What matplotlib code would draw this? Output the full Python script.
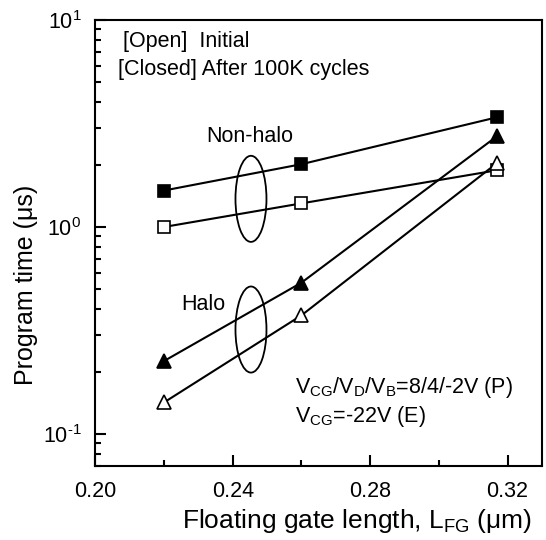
import matplotlib
matplotlib.use("Agg")
import matplotlib.pyplot as plt
from matplotlib.patches import Ellipse
from matplotlib.ticker import LogLocator, FixedLocator, NullFormatter, FuncFormatter
import math

plt.rcParams['font.family'] = ['Liberation Sans', 'DejaVu Sans']
plt.rcParams['mathtext.fontset'] = 'custom'
plt.rcParams['mathtext.rm'] = 'Liberation Sans'
plt.rcParams['mathtext.it'] = 'Liberation Sans:italic'
plt.rcParams['mathtext.default'] = 'regular'

# floating gate length (um)
l_fg = [0.22, 0.26, 0.317]

# program time (us)
nonhalo_initial = [1.00, 1.30, 1.88]
nonhalo_cycled = [1.50, 2.01, 3.39]
halo_initial = [0.142, 0.374, 2.04]
halo_cycled = [0.225, 0.538, 2.75]

x_ticks = [0.20, 0.24, 0.28, 0.32]
x_minor = [0.22, 0.26, 0.30]

FS = 15.5
FS_LABEL = 19


def pow10(v, pos):
    e = int(round(math.log10(v)))
    if e < 0:
        return '$10^{\\text{-}%d}$' % (-e)
    return '$10^{%d}$' % e


def main():
    fig = plt.figure(figsize=(5.46, 5.40), dpi=100)
    ax = fig.add_axes([0.1745, 0.137, 0.818, 0.826])

    lw = 1.5
    ax.plot(l_fg, nonhalo_cycled, '-s', color='black', lw=lw, ms=8,
            mfc='black', mec='black', mew=1.2)
    ax.plot(l_fg, nonhalo_initial, '-s', color='black', lw=lw, ms=8,
            mfc='white', mec='black', mew=1.2)
    ax.plot(l_fg, halo_cycled, '-^', color='black', lw=lw, ms=10,
            mfc='black', mec='black', mew=1.2)
    ax.plot(l_fg, halo_initial, '-^', color='black', lw=lw, ms=10,
            mfc='white', mec='black', mew=1.2)

    ax.set_yscale('log')
    ax.set_xlim(0.20, 0.33)
    ax.set_ylim(0.07, 10)

    ax.xaxis.set_major_locator(FixedLocator(x_ticks))
    ax.xaxis.set_minor_locator(FixedLocator(x_minor))
    ax.set_xticklabels(['%.2f' % t for t in x_ticks])
    ax.yaxis.set_major_locator(LogLocator(base=10, numticks=10))
    ax.yaxis.set_major_formatter(FuncFormatter(pow10))
    ax.yaxis.set_minor_locator(LogLocator(base=10, subs=range(2, 10), numticks=10))
    ax.yaxis.set_minor_formatter(NullFormatter())

    ax.tick_params(which='both', direction='in', top=False, right=False,
                   width=1.5, labelsize=FS)
    ax.tick_params(which='major', length=8)
    ax.tick_params(which='minor', length=4.5)
    ax.tick_params(axis='x', which='major', pad=11)
    ax.tick_params(axis='y', which='major', pad=10)
    for s in ax.spines.values():
        s.set_linewidth(1.5)

    ax.set_xlabel('Floating gate length, L$_{FG}$ ($\\mu$m)', fontsize=FS_LABEL)
    ax.xaxis.set_label_coords(0.586, -0.092)
    ax.set_ylabel('Program time (\u03bcs)', fontsize=FS_LABEL - 1)
    ax.yaxis.set_label_coords(-0.128, 0.406)

    # group markers
    for yc in (0.599, 0.306):
        ax.add_patch(Ellipse((0.3486, yc), 0.0694, 0.193, transform=ax.transAxes,
                             fill=False, ec='black', lw=1.3))

    ax.text(0.346, 0.738, 'Non-halo', transform=ax.transAxes, fontsize=FS,
            ha='center', va='center')
    ax.text(0.243, 0.361, 'Halo', transform=ax.transAxes, fontsize=FS,
            ha='center', va='center')

    ax.text(0.063, 0.951, '[Open]  Initial', transform=ax.transAxes,
            fontsize=FS, va='center')
    ax.text(0.050, 0.888, '[Closed] After 100K cycles', transform=ax.transAxes,
            fontsize=FS, va='center')

    ax.text(0.448, 0.164, '$V_{CG}/V_D/V_B$=8/4/-2V (P)', transform=ax.transAxes,
            fontsize=FS, va='baseline')
    ax.text(0.448, 0.099, '$V_{CG}$=-22V (E)', transform=ax.transAxes,
            fontsize=FS, va='baseline')

    fig.savefig('out.png', dpi=100)


if __name__ == '__main__':
    main()
